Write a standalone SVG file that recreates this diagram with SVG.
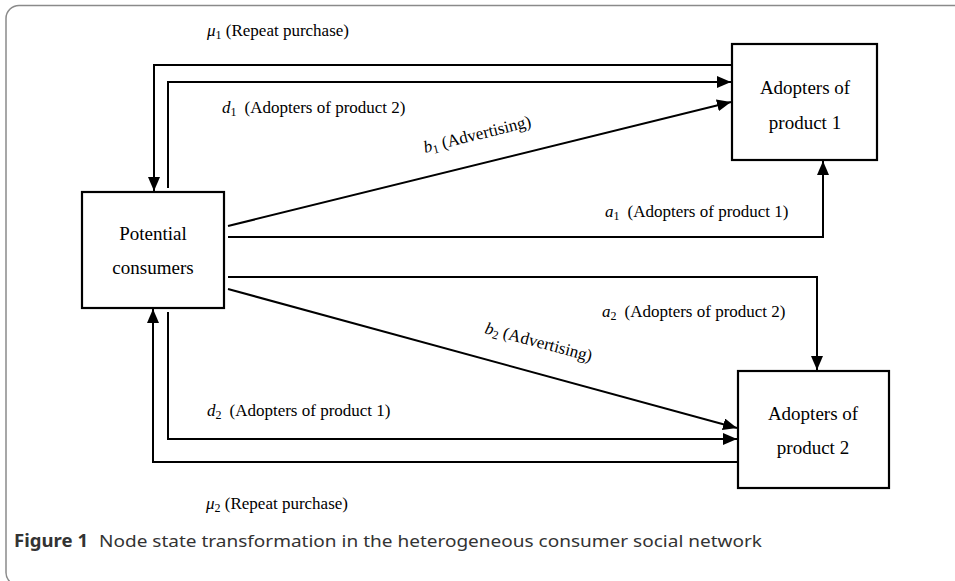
<svg xmlns="http://www.w3.org/2000/svg" width="955" height="581" viewBox="0 0 955 581">
<style>
.box{fill:#fff;stroke:#000;stroke-width:2.2}
.ln{fill:none;stroke:#000;stroke-width:2}
.nt{font-family:"Liberation Serif",serif;font-size:19px;fill:#000;text-anchor:middle}
.lb{font-family:"Liberation Serif",serif;font-size:17px;fill:#000}
.v{font-style:italic}
.sb{font-size:12px}
.cap{font-family:"Noto Sans","Open Sans",sans-serif;font-size:17px;fill:#333}
</style>
<defs>
<marker id="ah" markerUnits="userSpaceOnUse" markerWidth="14" markerHeight="12" refX="14" refY="6" orient="auto" viewBox="0 0 14 12">
<path d="M0,0 L14,6 L0,12 z" fill="#000"/>
</marker>
</defs>
<rect x="6" y="5.5" width="990" height="580" rx="13" fill="none" stroke="#8a8a8a" stroke-width="1.5"/>
<g id="connectors">
<path class="ln" d="M732,65 H154 V191" marker-end="url(#ah)"/>
<path class="ln" d="M168,188 V82 H731" marker-end="url(#ah)"/>
<path class="ln" d="M228,226 L731,102" marker-end="url(#ah)"/>
<path class="ln" d="M228,237 H823 V161" marker-end="url(#ah)"/>
<path class="ln" d="M228,277 H817 V370" marker-end="url(#ah)"/>
<path class="ln" d="M228,289 L737,428" marker-end="url(#ah)"/>
<path class="ln" d="M168,312 V439 H737" marker-end="url(#ah)"/>
<path class="ln" d="M738,462 H153 V309" marker-end="url(#ah)"/>
</g>
<g id="labels">
<text class="lb" x="207" y="36"><tspan class="v">μ</tspan><tspan class="sb" dy="3">1</tspan><tspan dy="-3"> (Repeat purchase)</tspan></text>
<text class="lb" x="222" y="113"><tspan class="v">d</tspan><tspan class="sb" dy="3">1</tspan><tspan dy="-3" dx="8">(Adopters of product 2)</tspan></text>
<text class="lb" transform="translate(425,153) rotate(-14)"><tspan class="v">b</tspan><tspan class="sb" dy="3">1</tspan><tspan dy="-3"> (Advertising)</tspan></text>
<text class="lb" x="605" y="217"><tspan class="v">a</tspan><tspan class="sb" dy="3">1</tspan><tspan dy="-3" dx="8">(Adopters of product 1)</tspan></text>
<text class="lb" x="602" y="317"><tspan class="v">a</tspan><tspan class="sb" dy="3">2</tspan><tspan dy="-3" dx="8">(Adopters of product 2)</tspan></text>
<text class="lb" transform="translate(484,333) rotate(15)"><tspan class="v">b</tspan><tspan class="sb" dy="3">2</tspan><tspan dy="-3"> (Advertising)</tspan></text>
<text class="lb" x="207" y="416"><tspan class="v">d</tspan><tspan class="sb" dy="3">2</tspan><tspan dy="-3" dx="8">(Adopters of product 1)</tspan></text>
<text class="lb" x="206" y="509"><tspan class="v">μ</tspan><tspan class="sb" dy="3">2</tspan><tspan dy="-3"> (Repeat purchase)</tspan></text>
</g>
<g id="potential">
<rect class="box" x="82" y="192" width="142" height="116"/>
<text class="nt" x="153" y="240">Potential</text>
<text class="nt" x="153" y="274">consumers</text>
</g>
<g id="adopters1">
<rect class="box" x="732" y="44" width="145" height="116"/>
<text class="nt" x="805" y="94">Adopters of</text>
<text class="nt" x="805" y="129">product 1</text>
</g>
<g id="adopters2">
<rect class="box" x="738" y="371" width="151" height="117"/>
<text class="nt" x="813" y="420">Adopters of</text>
<text class="nt" x="813" y="454">product 2</text>
</g>
<g id="caption">
<text class="cap" x="14" y="547" font-weight="bold" fill="#000" textLength="74" lengthAdjust="spacingAndGlyphs">Figure 1</text>
<text class="cap" x="99" y="547" textLength="663" lengthAdjust="spacingAndGlyphs">Node state transformation in the heterogeneous consumer social network</text>
</g>
</svg>
